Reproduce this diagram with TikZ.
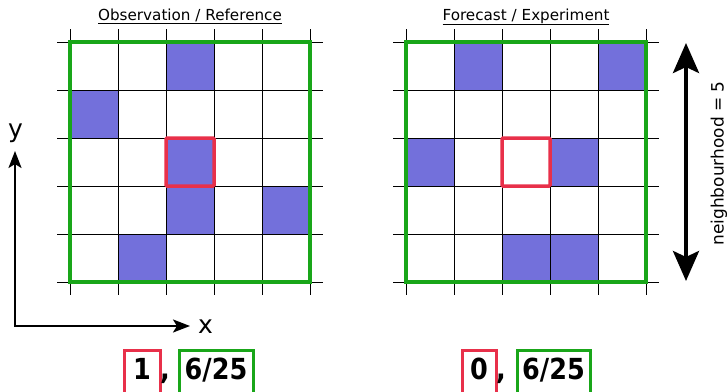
\documentclass[tikz,border=0pt]{standalone}
\usepackage{fontspec}
\setmainfont{DejaVu Sans}
\newfontfamily\scorefont[FakeStretch=0.88]{DejaVu Sans}
\usetikzlibrary{arrows.meta}
\definecolor{CellBlue}{HTML}{7370DB}
\definecolor{FrameGreen}{HTML}{19A619}
\definecolor{HitRed}{HTML}{E8304A}

\begin{document}
\begin{tikzpicture}[
  x=1pt,y=-1pt,
  cell/.style={fill=CellBlue},
  gridline/.style={draw=black,line width=0.9pt},
  fieldframe/.style={draw=FrameGreen,line width=3.5pt},
  centre/.style={draw=HitRed,line width=3.5pt,rounded corners=1pt},
  title/.style={font=\fontsize{15.2}{18}\selectfont,anchor=base,inner sep=0pt},
  axislabel/.style={font=\fontsize{25}{30}\selectfont,anchor=base,inner sep=0pt},
  axis/.style={>={Stealth[length=17pt,width=13pt,inset=4pt]},<->,line width=2.4pt,line join=miter},
  span/.style={>={Stealth[length=30pt,width=26pt,inset=6pt]},<->,line width=4pt},
  score/.style={font=\fontsize{29}{32}\selectfont\scorefont\bfseries,anchor=base,inner sep=0pt,text height=29pt,text depth=14pt,line width=3pt},
  comma/.style={font=\fontsize{29}{32}\selectfont\scorefont\bfseries,anchor=base,inner sep=0pt}
]
\useasboundingbox (0,0) rectangle (728,391);

% observation field
\begin{scope}[shift={(70,42)}]
  \foreach \c/\r in {2/0,0/1,2/2,2/3,4/3,1/4}
    \fill[cell] (48*\c,48*\r) rectangle ++(48,48);
  \foreach \i in {0,...,5} {
    \draw[gridline] (48*\i,-13) -- (48*\i,253);
    \draw[gridline] (-13,48*\i) -- (253,48*\i);
  }
  \draw[fieldframe] (0,0) rectangle (240,240);
  \draw[centre] (96,96) rectangle (144,144);
  \node[title] (obs) at (120,-22) {\underline{Observation / Reference}};
\end{scope}

% forecast field
\begin{scope}[shift={(406,42)}]
  \foreach \c/\r in {1/0,4/0,0/2,3/2,2/4,3/4}
    \fill[cell] (48*\c,48*\r) rectangle ++(48,48);
  \foreach \i in {0,...,5} {
    \draw[gridline] (48*\i,-13) -- (48*\i,253);
    \draw[gridline] (-13,48*\i) -- (253,48*\i);
  }
  \draw[fieldframe] (0,0) rectangle (240,240);
  \draw[centre] (96,96) rectangle (144,144);
  \node[title] (fc) at (120,-22) {\underline{Forecast / Experiment}};
\end{scope}

% axes
\coordinate (origin) at (15,326);
\coordinate (ytip) at (15,151);
\coordinate (xtip) at (190,326);
\draw[axis] (ytip) -- (origin) -- (xtip);
\node[axislabel] (ylab) at (15.5,137) {y};
\node[axislabel] (xlab) at (205.5,333) {x};

% neighbourhood size
\coordinate (ntop) at (686,43);
\coordinate (nbot) at (686,281);
\draw[span] (ntop) -- (nbot);
\node[font=\fontsize{17}{20}\selectfont,rotate=90,anchor=base,inner sep=0pt] (nlab) at (723.5,163.5) {neighbourhood = 5};

% scores
\node[score,draw=HitRed,minimum width=36pt] (hitobs) at (142,379) {1};
\node[comma] (sepobs) at (165,379) {,};
\node[score,draw=FrameGreen,minimum width=74pt] (fracobs) at (216,379) {6/25};
\node[score,draw=HitRed,minimum width=34pt] (hitfc) at (479,379) {0};
\node[comma] (sepfc) at (501,379) {,};
\node[score,draw=FrameGreen,minimum width=73pt] (fracfc) at (553.5,379) {6/25};
\end{tikzpicture}
\end{document}
